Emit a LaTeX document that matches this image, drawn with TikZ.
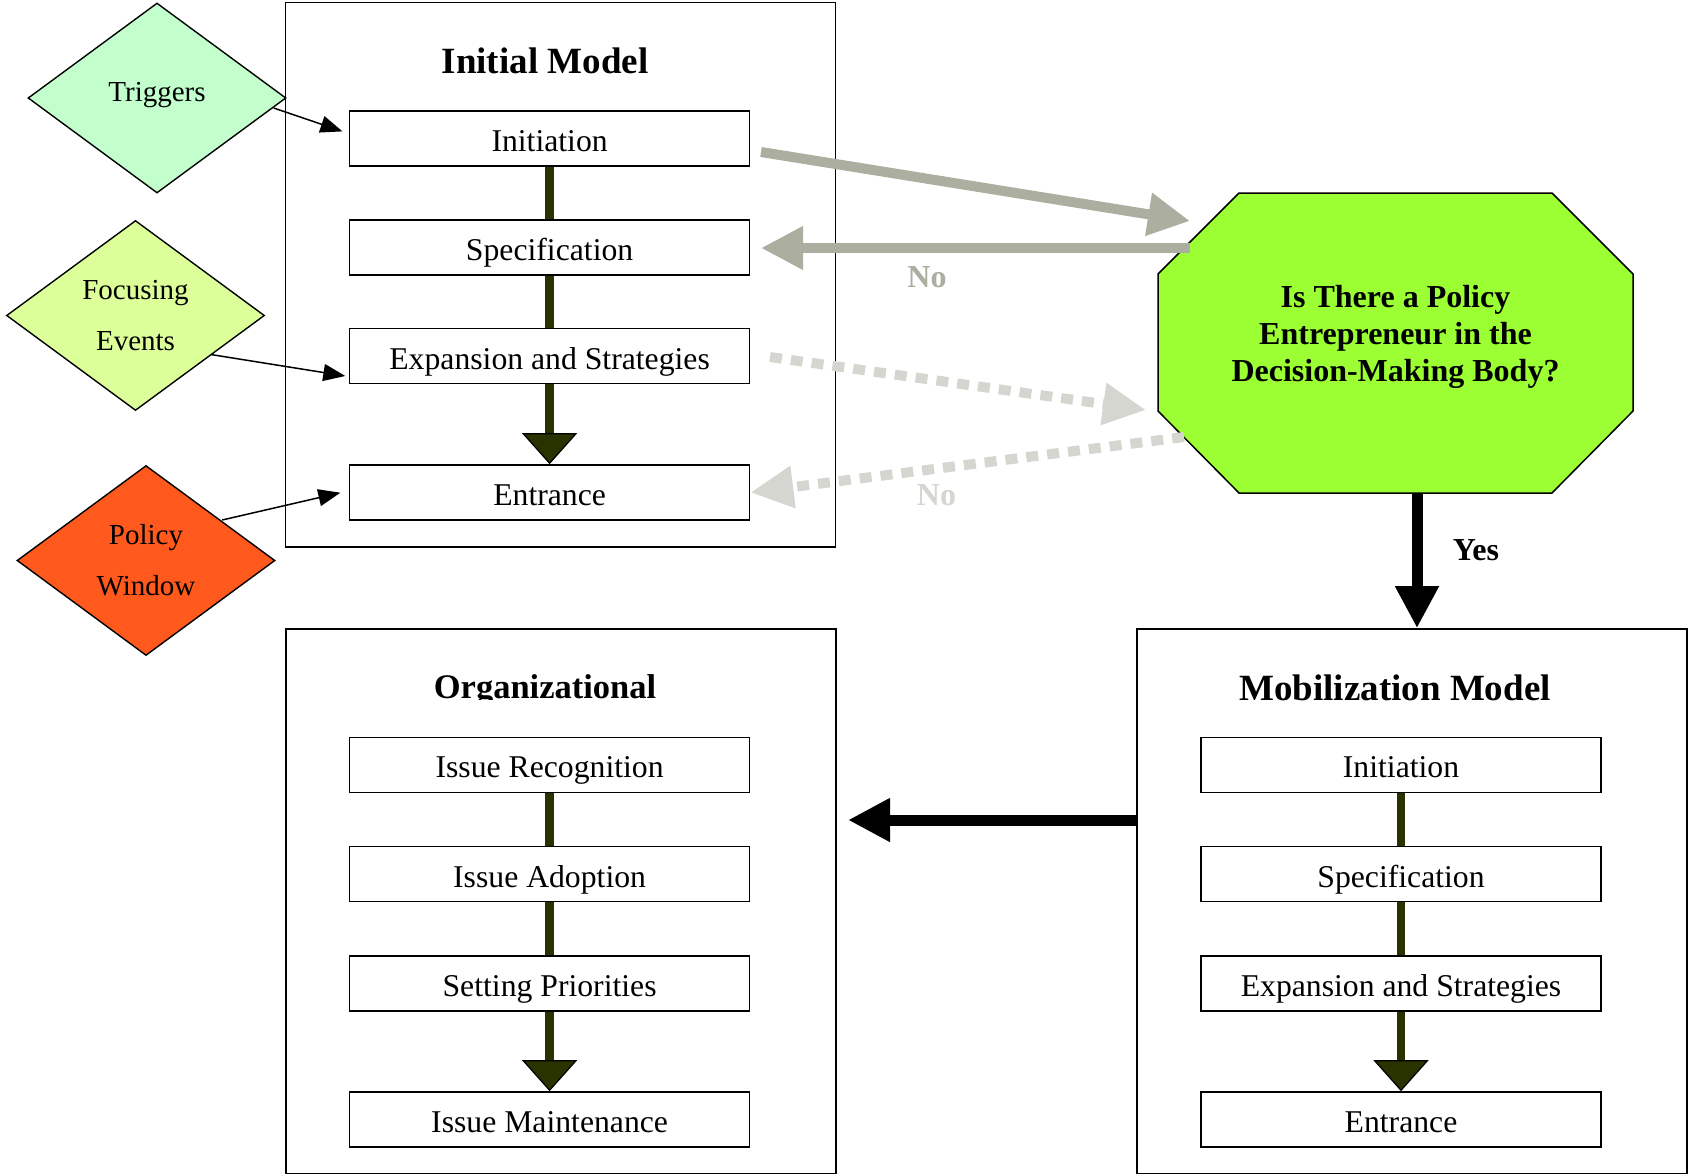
\documentclass[tikz,border=0pt]{standalone}
\usepackage{fontspec}
\setmainfont{Liberation Serif}
\usetikzlibrary{arrows.meta,shapes.geometric}
\definecolor{trigc}{RGB}{195,255,205}
\definecolor{focc}{RGB}{221,255,153}
\definecolor{polc}{RGB}{255,89,29}
\definecolor{octc}{RGB}{155,255,51}
\definecolor{grayc}{RGB}{172,174,160}
\definecolor{lgrayc}{RGB}{213,214,208}
\definecolor{olivec}{RGB}{40,51,0}
\begin{document}
\begin{tikzpicture}[x=1pt,y=-1pt,
  stage/.style={draw=black,line width=1.6pt,fill=white,minimum width=400pt,minimum height=55pt,inner sep=0pt,text height=26pt,text depth=0pt,font=\fontsize{31.7}{38}\selectfont},
  frame/.style={draw=black,line width=1.6pt,minimum width=550pt,minimum height=544.5pt,inner sep=0pt},
  titletext/.style={font=\fontsize{37}{44}\selectfont\bfseries,anchor=base,inner sep=0pt},
  diam/.style={diamond,draw=black,line width=1.4pt,minimum width=258pt,minimum height=190pt,inner sep=0pt,align=center,font=\fontsize{29}{51}\selectfont},
  link/.style={draw=olivec,line width=8.5pt},
  bigtip/.style={-{Triangle[length=31pt,width=55pt,fill=olivec,color=black,line width=1.2pt]}},
  thinarrow/.style={draw=black,line width=1.5pt,-{Triangle[length=22pt,width=17pt]}},
  grayarrow/.style={draw=grayc,line width=10pt,-{Triangle[length=42pt,width=41pt]}},
  dotarrow/.style={draw=lgrayc,line width=10pt,dash pattern=on 12pt off 9pt,-{Triangle[length=43pt,width=40pt]}},
  blackarrow/.style={draw=black,line width=11pt,-{Triangle[length=42pt,width=41pt]}},
  lbl/.style={font=\fontsize{32}{38}\selectfont\bfseries,inner sep=0pt}
]
\useasboundingbox (0,0) rectangle (1688,1175);

% frames
\node[frame] (initbox) at (560.35,274.75) {};
\node[frame] (orgbox) at (560.75,901.25) {};
\node[frame] (mobbox) at (1411.75,901.25) {};

% titles
\node[titletext] (inittitle) at (545,73) {Initial Model};
\node[titletext] (mobtitle) at (1395,700.5) {Mobilization Model};
\begin{scope}
\clip (287,631) rectangle (835,699.5);
\node[titletext,font=\fontsize{34.5}{41}\selectfont\bfseries] (orgtitle) at (545,698.6) {Organizational};
\end{scope}

% initial model stages
\node[stage] (i1) at (549.6,138.5) {Initiation};
\node[stage] (i2) at (549.6,247.5) {Specification};
\node[stage] (i3) at (549.6,356) {Expansion and Strategies};
\node[stage] (i4) at (549.6,492.5) {Entrance};
\draw[link] (i1.south) -- (i2.north);
\draw[link] (i2.south) -- (i3.north);
\draw[link,bigtip] (i3.south) -- (i4.north);

% organizational stages
\node[stage] (o1) at (549.6,764.8) {Issue Recognition};
\node[stage] (o2) at (549.6,874) {Issue Adoption};
\node[stage] (o3) at (549.6,983.2) {Setting Priorities};
\node[stage] (o4) at (549.6,1119.5) {Issue Maintenance};
\draw[link] (o1.south) -- (o2.north);
\draw[link] (o2.south) -- (o3.north);
\draw[link,bigtip] (o3.south) -- (o4.north);

% mobilization stages
\node[stage] (m1) at (1401,764.8) {Initiation};
\node[stage] (m2) at (1401,874) {Specification};
\node[stage] (m3) at (1401,983.2) {Expansion and Strategies};
\node[stage] (m4) at (1401,1119.5) {Entrance};
\draw[link] (m1.south) -- (m2.north);
\draw[link] (m2.south) -- (m3.north);
\draw[link,bigtip] (m3.south) -- (m4.north);

% diamonds
\node[diam,fill=trigc,text height=19pt,text depth=13pt] (trig) at (157,98) {Triggers};
\node[diam,fill=focc] (foc) at (135.5,315.5) {Focusing\\Events};
\node[diam,fill=polc] (pol) at (146,560.5) {Policy\\Window};

\coordinate (t1) at (273.7,108);
\coordinate (t2) at (342.5,131.4);
\coordinate (f1) at (211.4,354.6);
\coordinate (f2) at (345.3,376);
\coordinate (p1) at (222.2,520);
\coordinate (p2) at (340.4,492.7);
\draw[thinarrow] (t1) -- (t2);
\draw[thinarrow] (f1) -- (f2);
\draw[thinarrow] (p1) -- (p2);

% octagon decision
\draw[fill=octc,draw=black,line width=1.5pt] (1239,193) -- (1552,193) -- (1633,274) -- (1633,411) -- (1552,493) -- (1239,493) -- (1158,411) -- (1158,274) -- cycle;
\node[align=center,inner sep=0pt,font=\fontsize{32}{37}\selectfont\bfseries] (q) at (1395.5,336.5) {Is There a Policy\\Entrepreneur in the\\Decision-Making Body?};

\coordinate (a1s) at (761,152);
\coordinate (a1e) at (1190,221);
\coordinate (a2s) at (1190,248);
\coordinate (a2e) at (761,248);
\coordinate (a3s) at (770,357);
\coordinate (a3e) at (1146,410);
\coordinate (a4s) at (1184,437);
\coordinate (qbot) at (1417,493);
\coordinate (mobout) at (1137,820);
\coordinate (orgin) at (848,820);

\draw[grayarrow] (a1s) -- (a1e);
\draw[grayarrow] (a2s) -- (a2e);
\draw[dotarrow] (a3s) -- (a3e);
\draw[dotarrow] (a4s) -- (i4.east);
\draw[blackarrow] (qbot) -- (qbot |- mobbox.north);
\draw[blackarrow] (mobout) -- (orgin);

\node[lbl,text=grayc] (no1) at (927,277) {No};
\node[lbl,text=lgrayc] (no2) at (936.5,495) {No};
\node[lbl] (yes) at (1476,550) {Yes};
\end{tikzpicture}
\end{document}
